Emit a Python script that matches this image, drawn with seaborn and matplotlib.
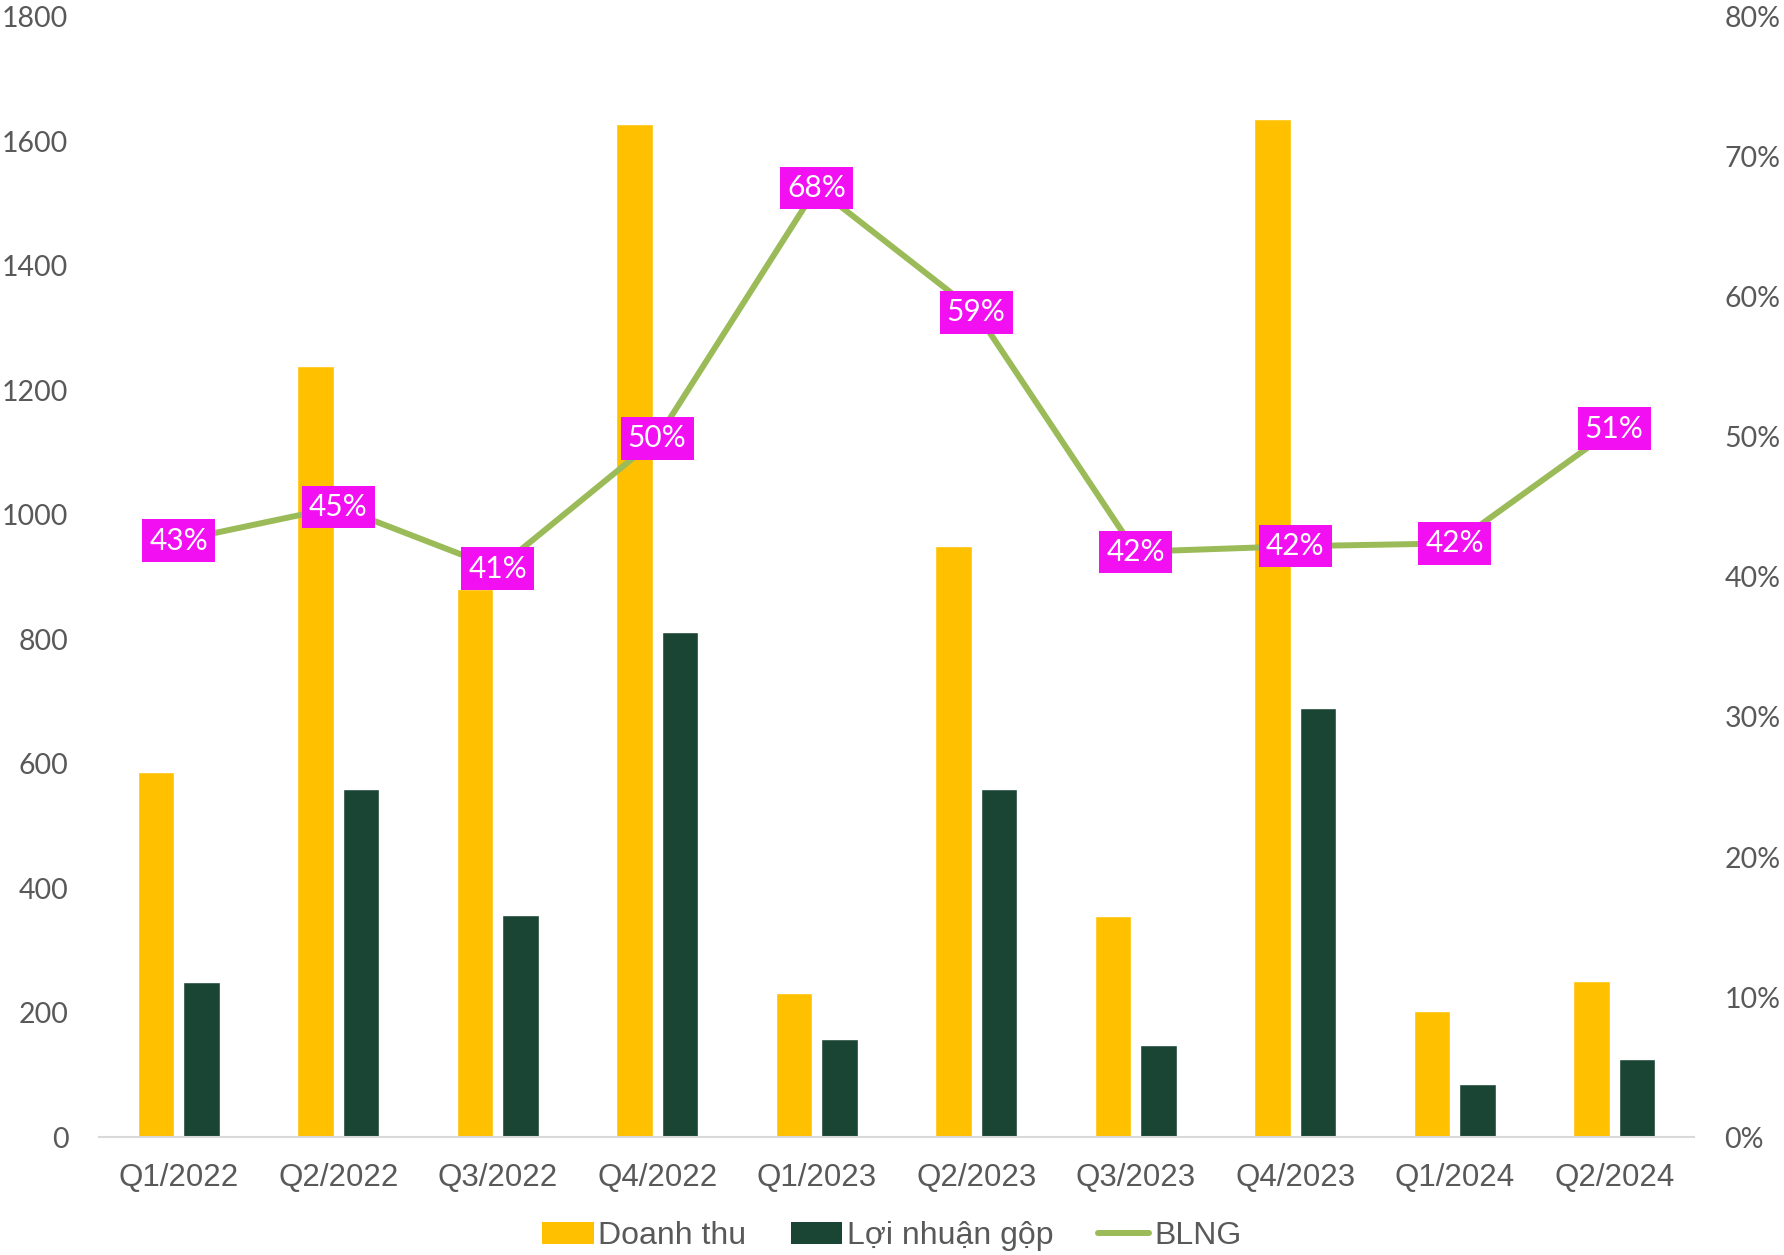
import numpy as np
import pandas as pd
import matplotlib
matplotlib.use("Agg")
import matplotlib.pyplot as plt
import seaborn as sns
from matplotlib.patches import Patch
from matplotlib.lines import Line2D

quarters = ["Q1/2022", "Q2/2022", "Q3/2022", "Q4/2022", "Q1/2023",
            "Q2/2023", "Q3/2023", "Q4/2023", "Q1/2024", "Q2/2024"]
doanh_thu = [586, 1239, 880, 1628, 232, 950, 355, 1636, 203, 251]
loi_nhuan = [249, 560, 357, 812, 157, 560, 148, 690, 86, 126]
blng = [42.6, 45.0, 40.6, 49.9, 67.8, 58.9, 41.8, 42.2, 42.4, 50.6]

series_names = ["Doanh thu", "Lợi nhuận gộp", "BLNG"]
colors = {"Doanh thu": "#FFC000", "Lợi nhuận gộp": "#1A4535"}
line_color = "#9BBB59"
label_bg = "#F20FF2"
tick_color = "#595959"

df = pd.DataFrame({
    "quarter": quarters * 2,
    "value": doanh_thu + loi_nhuan,
    "series": [series_names[0]] * len(quarters) + [series_names[1]] * len(quarters),
})

sns.set_theme(style="white")
fig = plt.figure(figsize=(17.84, 12.55), dpi=100)
ax = fig.add_axes([0.0555, 0.094, 0.894, 0.8925])

sns.barplot(data=df, x="quarter", y="value", hue="series", order=quarters,
            hue_order=series_names[:2], palette=colors, width=0.57, gap=0.2,
            saturation=1, ax=ax, legend=False)
ax.set_ylim(0, 1800)
ax.set_xlim(-0.5, len(quarters) - 0.5)
ax.set_yticks(np.arange(0, 1801, 200))
ax.set_xlabel("")
ax.set_ylabel("")
for s in ["top", "right", "left"]:
    ax.spines[s].set_visible(False)
ax.spines["bottom"].set_color("#D9D9D9")
ax.spines["bottom"].set_linewidth(1.5)
ax.tick_params(axis="y", length=0, pad=22, labelsize=20.5, labelcolor=tick_color)
ax.tick_params(axis="x", length=0, pad=19, labelsize=22.5, labelcolor=tick_color)
for lab in ax.get_yticklabels():
    lab.set_family("Lato")
for lab in ax.get_xticklabels():
    lab.set_family("Liberation Sans")

ax2 = ax.twinx()
sns.pointplot(x=quarters, y=blng, order=quarters, ax=ax2, color=line_color,
              markers="", linewidth=4.3, errorbar=None)
ax2.set_ylim(0, 80)
ax2.set_xlim(-0.5, len(quarters) - 0.5)
ax2.set_yticks(np.arange(0, 81, 10))
ax2.set_yticklabels([f"{v}%" for v in range(0, 81, 10)])
ax2.set_ylabel("")
for s in ["top", "right", "left", "bottom"]:
    ax2.spines[s].set_visible(False)
ax2.tick_params(axis="y", length=0, pad=22, labelsize=20.5, labelcolor=tick_color)
for lab in ax2.get_yticklabels():
    lab.set_family("Lato")
ax2.grid(False)
ax.grid(False)

for i, v in enumerate(blng):
    ax2.text(i, v, f"{round(v)}%", ha="center", va="center", color="white",
             fontsize=21.5, family="Lato", zorder=5,
             bbox=dict(boxstyle="square,pad=0.24", facecolor=label_bg, edgecolor="none"))

handles = [
    Patch(facecolor=colors["Doanh thu"], edgecolor="none"),
    Patch(facecolor=colors["Lợi nhuận gộp"], edgecolor="none"),
    Line2D([0], [0], color=line_color, linewidth=4.3),
]
leg = fig.legend(handles, series_names, loc="center", bbox_to_anchor=(0.5, 0.015),
                 ncol=3, frameon=False, handlelength=1.6, handleheight=0.7,
                 handletextpad=0.15, columnspacing=1.4,
                 prop={"family": "Liberation Sans", "size": 23})
for t in leg.get_texts():
    t.set_color(tick_color)

fig.savefig("out.png", dpi=100)
